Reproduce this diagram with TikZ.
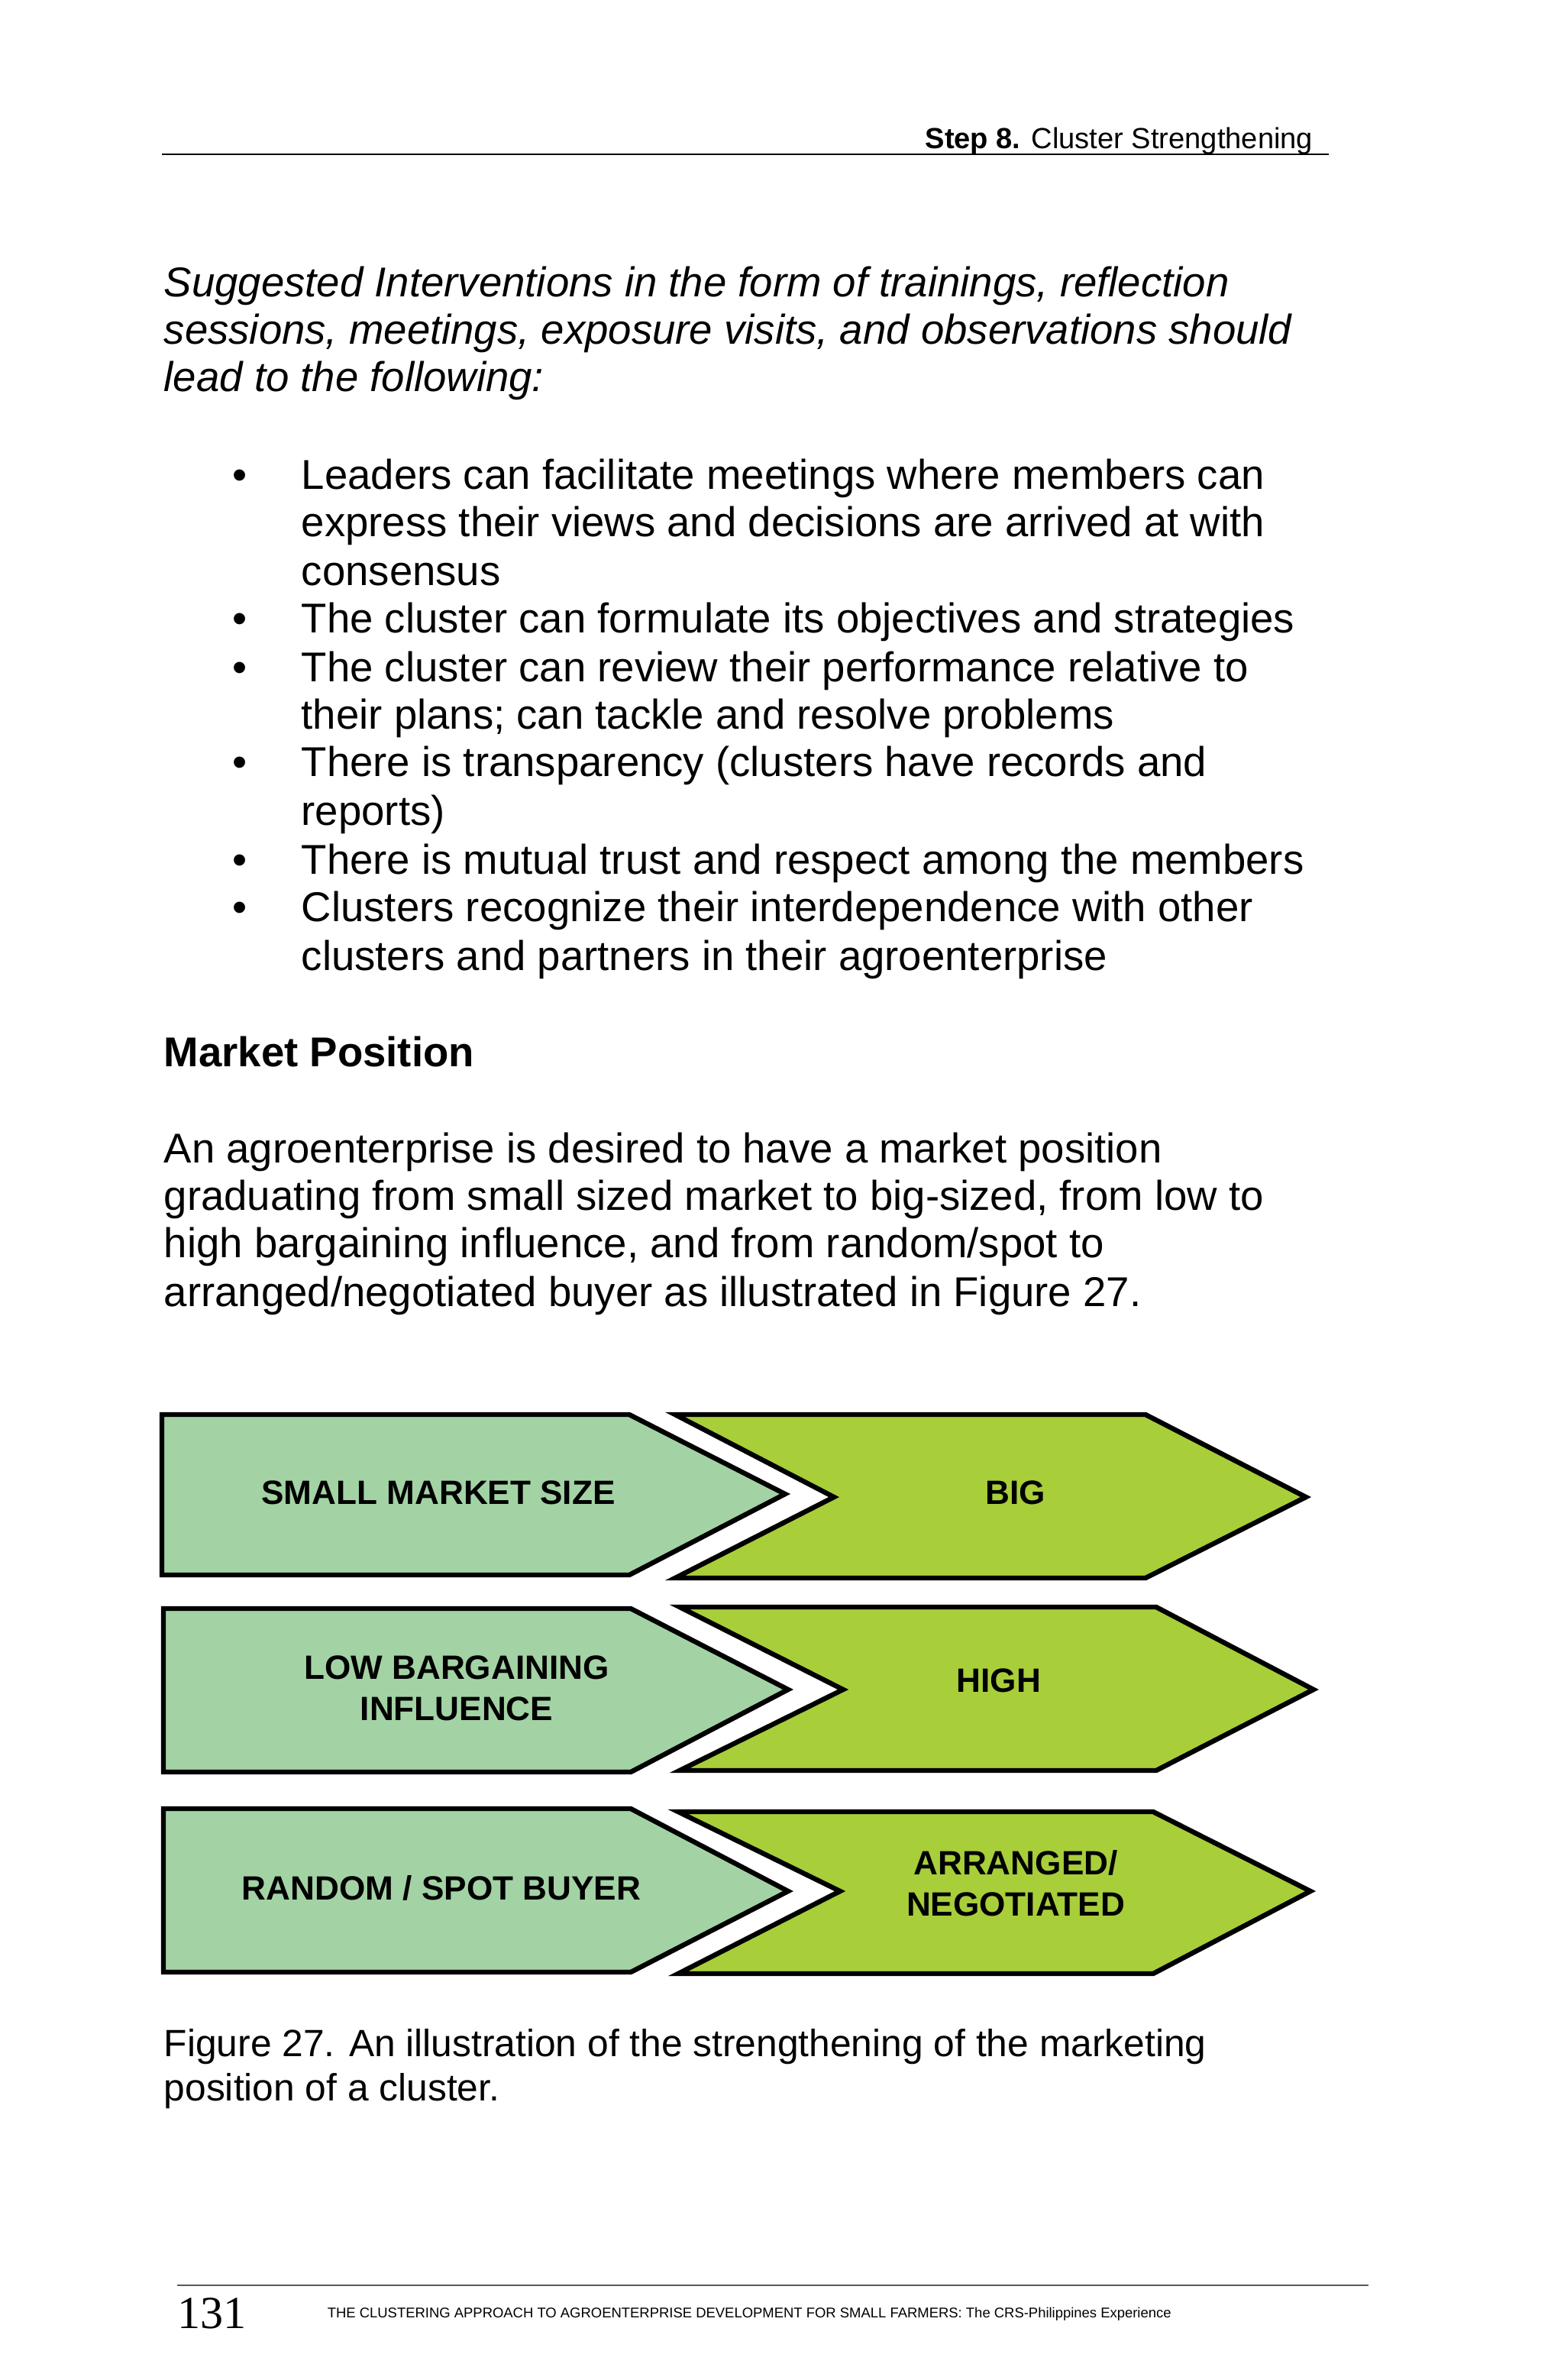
\documentclass[tikz,border=0pt]{standalone}
\usepackage{fontspec}
\setmainfont{Liberation Sans}
\newfontfamily\tms{Liberation Serif}
\begin{document}
\begin{tikzpicture}[x=0.4968bp,y=-0.4968bp,
 ln/.style={anchor=base west,inner sep=0,font=\fontsize{13.6}{15}\selectfont},
 lbl/.style={font=\fontsize{11}{13.5}\selectfont\bfseries,align=center,inner sep=0},
 lshape/.style={draw=black,line width=1.6pt,fill=lgreen,line join=miter},
 rshape/.style={draw=black,line width=1.6pt,fill=ygreen,line join=miter}]
\definecolor{lgreen}{HTML}{A3D3A4}
\definecolor{ygreen}{HTML}{A8CE3A}
\useasboundingbox (0,0) rectangle (1024,1558);
\fill[white] (0,0) rectangle (1024,1558);
% header
\node[anchor=base east,inner sep=0,font=\fontsize{9.5}{11}\selectfont] (hd) at (860,97) {\textbf{Step 8.} Cluster Strengthening};
\draw[line width=0.7pt] (106,101) -- (870,101);
% intro
\node[ln,font=\fontsize{13.6}{15}\selectfont\itshape] (i1) at (107,194) {Suggested Interventions in the form of trainings, reflection};
\node[ln,font=\fontsize{13.6}{15}\selectfont\itshape] (i2) at (107,225) {sessions, meetings, exposure visits, and observations should};
\node[ln,font=\fontsize{13.6}{15}\selectfont\itshape] (i3) at (107,256) {lead to the following:};
% bullets
\foreach \y in {320,414,446,508,572,603}{\node[ln] at (152,\y) {•};}
\node[ln] (b1) at (197,320) {Leaders can facilitate meetings where members can};
\node[ln] (b1b) at (197,351) {express their views and decisions are arrived at with};
\node[ln] (b1c) at (197,383) {consensus};
\node[ln] (b2) at (197,414) {The cluster can formulate its objectives and strategies};
\node[ln] (b3) at (197,446) {The cluster can review their performance relative to};
\node[ln] (b3b) at (197,477) {their plans; can tackle and resolve problems};
\node[ln] (b4) at (197,508) {There is transparency (clusters have records and};
\node[ln] (b4b) at (197,540) {reports)};
\node[ln] (b5) at (197,572) {There is mutual trust and respect among the members};
\node[ln] (b6) at (197,603) {Clusters recognize their interdependence with other};
\node[ln] (b6b) at (197,635) {clusters and partners in their agroenterprise};
\node[ln,font=\fontsize{13.6}{15}\selectfont\bfseries] (mp) at (107,698) {Market Position};
\node[ln] (p1) at (107,761) {An agroenterprise is desired to have a market position};
\node[ln] (p2) at (107,792) {graduating from small sized market to big-sized, from low to};
\node[ln] (p3) at (107,823) {high bargaining influence, and from random/spot to};
\node[ln] (p4) at (107,855) {arranged/negotiated buyer as illustrated in Figure 27.};
% shapes
\draw[lshape] (106,926) -- (412,926) -- (514,978) -- (412,1031) -- (106,1031) -- cycle;
\draw[rshape] (442,926) -- (750,926) -- (855,980) -- (750,1033) -- (442,1033) -- (546,980) -- cycle;
\draw[lshape] (107,1053) -- (413,1053) -- (516,1106) -- (413,1160) -- (107,1160) -- cycle;
\draw[rshape] (445,1052) -- (757,1052) -- (860,1106) -- (757,1159) -- (445,1159) -- (552,1106) -- cycle;
\draw[lshape] (107,1184) -- (413,1184) -- (516,1238) -- (413,1291) -- (107,1291) -- cycle;
\draw[rshape] (444,1186) -- (755,1186) -- (858,1238) -- (755,1292) -- (444,1292) -- (550,1238) -- cycle;
\node[lbl] (t1) at (287,977) {SMALL MARKET SIZE};
\node[lbl] (t2) at (665,977) {BIG};
\node[lbl] (t3) at (299,1105) {LOW BARGAINING\\INFLUENCE};
\node[lbl] (t4) at (654,1100) {HIGH};
\node[lbl] (t5) at (289,1236) {RANDOM / SPOT BUYER};
\node[lbl] (t6) at (665,1233) {ARRANGED/\\NEGOTIATED};
% caption
\node[ln,font=\fontsize{12.4}{14}\selectfont] (c1) at (107,1346) {Figure 27. An illustration of the strengthening of the marketing};
\node[ln,font=\fontsize{12.4}{14}\selectfont] (c2) at (107,1375) {position of a cluster.};
% footer
\draw[line width=0.6pt,gray!70!black] (116,1496) -- (896,1496);
\node[anchor=base west,inner sep=0,font=\tms\fontsize{15}{17}\selectfont] (pg) at (116,1524) {131};
\node[anchor=base west,inner sep=0,font=\fontsize{4.6}{6}\selectfont] (ft) at (214,1517) {THE CLUSTERING APPROACH TO AGROENTERPRISE DEVELOPMENT FOR SMALL FARMERS: The CRS-Philippines Experience};
\end{tikzpicture}
\end{document}
